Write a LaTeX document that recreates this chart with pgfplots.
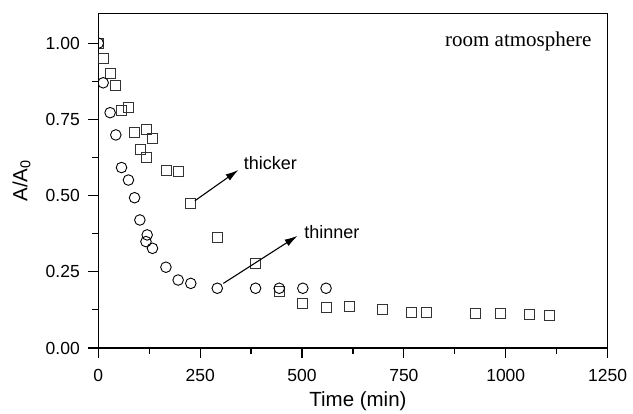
\documentclass[border=0pt]{standalone}
\usepackage{fontspec}
\setmainfont{Liberation Sans}
\newfontfamily\seriffont{Liberation Serif}
\usepackage{pgfplots}
\pgfplotsset{compat=1.18}
\usetikzlibrary{arrows.meta}

% thicker film (squares)
\pgfplotstableread{
t    r
0    1.000
12   0.950
29   0.901
43   0.860
57   0.778
74   0.788
88   0.708
104  0.651
119  0.718
119  0.624
133  0.688
168  0.584
196  0.578
227  0.475
292  0.362
386  0.276
444  0.184
502  0.147
559  0.132
616  0.135
698  0.125
769  0.117
806  0.117
926  0.114
986  0.112
1057 0.109
1108 0.107
}\thicker

% thinner film (circles)
\pgfplotstableread{
t    r
0    1.000
12   0.870
29   0.772
43   0.699
57   0.592
74   0.551
89   0.493
102  0.420
120  0.371
117  0.349
133  0.327
166  0.265
196  0.223
227  0.212
292  0.196
386  0.196
444  0.196
502  0.196
559  0.196
}\thinner

\begin{document}
\begin{tikzpicture}
\useasboundingbox (-98.3bp,-66bp) rectangle (534.7bp,348bp);
\begin{axis}[
  scale only axis,
  width=509.3bp, height=334.7bp,
  xmin=0, xmax=1250, ymin=0, ymax=1.098,
  clip marker paths=true,
  xtick={0,250,...,1250},
  ytick={0,0.25,...,1.0},
  minor xtick={125,375,...,1125},
  minor ytick={0.125,0.375,...,0.875},
  xtick pos=left, ytick pos=left,
  tick align=outside,
  major tick length=10bp, minor tick length=6bp,
  every tick/.style={black, line width=1.2bp},
  axis line style={line width=1.4bp},
  /pgf/number format/assume math mode=true,
  yticklabel style={/pgf/number format/.cd, fixed, fixed zerofill, precision=2, /tikz/.cd, xshift=-5bp},
  scaled y ticks=false,
  xticklabel style={/pgf/number format/1000 sep={}, yshift=-8bp},
  tick label style={font=\fontsize{17.5bp}{20bp}\selectfont},
  label style={font=\fontsize{20.5bp}{24bp}\selectfont},
  xlabel={Time (min)},
  ylabel={A/A\textsubscript{0}},
  xlabel style={at={([xshift=5bp,yshift=-58.7bp]axis description cs:0.5,0)}, anchor=base},
  ylabel style={at={([xshift=-71bp]axis description cs:0,0.5)}, anchor=base},
]
\addplot[only marks, mark=square, mark size=5bp, black!80,
  mark options={line width=0.9bp, fill=none}] table[x=t, y=r] {\thicker};
\addplot[only marks, mark=o, mark size=5.3bp, black,
  mark options={line width=0.9bp, fill=none}] table[x=t, y=r] {\thinner};

\draw[line width=1.1bp, -{Latex[length=13bp, width=7.5bp]}] (axis cs:237,0.483) -- (axis cs:344,0.584);
\draw[line width=1.1bp, -{Latex[length=13bp, width=7.5bp]}] (axis cs:307,0.212) -- (axis cs:489,0.368);
\node[anchor=base west, inner sep=0, font=\fontsize{18bp}{21bp}\selectfont] at (axis cs:357,0.584) {thicker};
\node[anchor=base west, inner sep=0, font=\fontsize{18bp}{21bp}\selectfont] at (axis cs:505,0.36) {thinner};
\node[anchor=base east, inner sep=0, font=\seriffont\fontsize{21bp}{25bp}\selectfont] at (axis cs:1211,0.99) {room atmosphere};
\end{axis}
\end{tikzpicture}
\end{document}
